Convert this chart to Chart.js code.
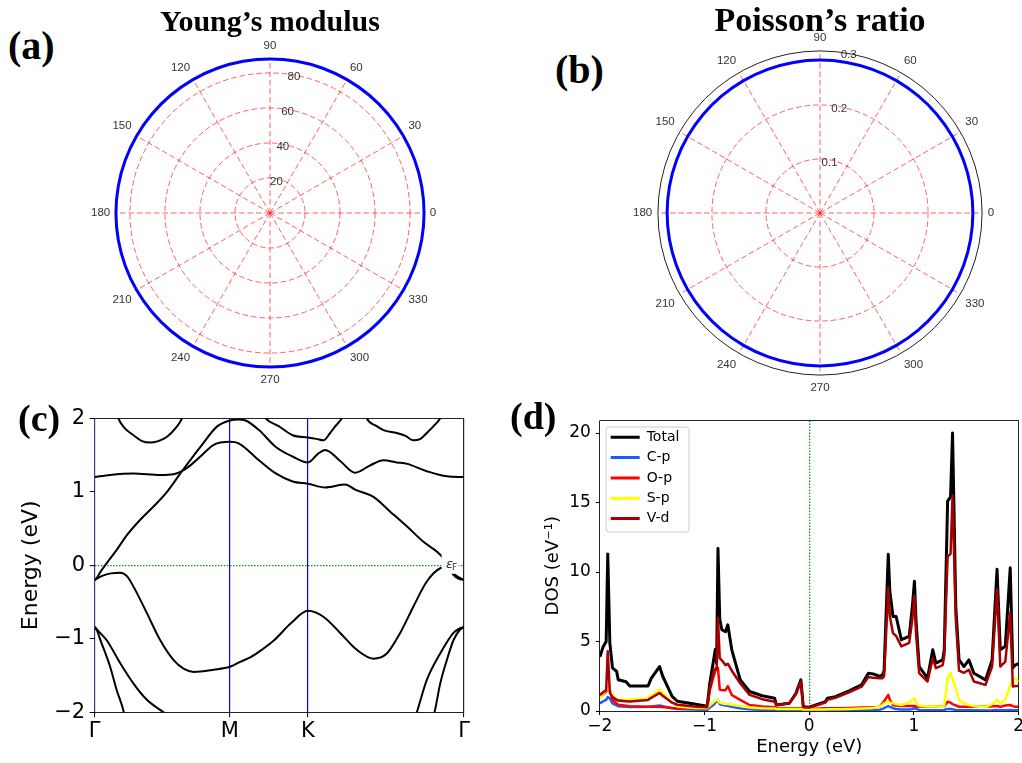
<!DOCTYPE html>
<html>
<head>
<meta charset="utf-8">
<title>Elastic constants, band structure and DOS</title>
<script src="https://cdn.jsdelivr.net/npm/chart.js@4.4.1/dist/chart.umd.min.js"></script>
<style>
  html, body { margin: 0; padding: 0; background: #fff; width: 1022px; height: 763px; overflow: hidden; }
  canvas { position: absolute; }
  .lbl { position: absolute; font-family: 'Liberation Serif', serif; font-weight: bold; white-space: nowrap; line-height: 1; color: #000; }
</style>
</head>
<body>
<canvas id="young" width="358" height="358" style="left:85px;top:35px"></canvas>
<canvas id="poisson" width="374" height="374" style="left:627px;top:27px"></canvas>
<canvas id="bands" width="480" height="363" style="left:0;top:400px"></canvas>
<canvas id="dos" width="505" height="363" style="left:520px;top:400px"></canvas>
<div class="lbl" style="left:270px;top:6px;font-size:30px;transform:translateX(-50%)">Young’s modulus</div>
<div class="lbl" style="left:820px;top:3px;font-size:34px;transform:translateX(-50%)">Poisson’s ratio</div>
<div class="lbl" style="left:8px;top:26px;font-size:40px">(a)</div>
<div class="lbl" style="left:555px;top:50px;font-size:40px">(b)</div>
<div class="lbl" style="left:18px;top:399px;font-size:38px">(c)</div>
<div class="lbl" style="left:510px;top:397px;font-size:38px">(d)</div>
<script>
Chart.defaults.font.family = 'DejaVu Sans';
Chart.defaults.color = '#000';

// (a), (b) polar plots, angles in degrees (clockwise from the top, as the radar scale draws them)
const angles = [90, 80, 70, 60, 50, 40, 30, 20, 10, 0, 350, 340, 330, 320, 310, 300, 290, 280,
  270, 260, 250, 240, 230, 220, 210, 200, 190, 180, 170, 160, 150, 140, 130, 120, 110, 100];
const youngValues = [88, 88, 88, 88, 88, 88, 88, 88, 88, 88, 88, 88, 88, 88, 88, 88, 88, 88,
  88, 88, 88, 88, 88, 88, 88, 88, 88, 88, 88, 88, 88, 88, 88, 88, 88, 88];
const youngTicks = [0, 20, 40, 60, 80, 88];
const poissonValues = [0.283, 0.283, 0.283, 0.283, 0.283, 0.283, 0.283, 0.283, 0.283, 0.283, 0.283, 0.283,
  0.283, 0.283, 0.283, 0.283, 0.283, 0.283, 0.283, 0.283, 0.283, 0.283, 0.283, 0.283,
  0.283, 0.283, 0.283, 0.283, 0.283, 0.283, 0.283, 0.283, 0.283, 0.283, 0.283, 0.283];
const poissonTicks = [0, 0.1, 0.2, 0.3];

// (c) band structure, [k, E] pairs along Γ-M-K-Γ
const kTicks = [0, 1, 1.577, 2.732];
const kLabels = ['Γ', 'M', 'K', 'Γ'];
const eTicks = [-2, -1, 0, 1, 2];
const bandA1 = [[0.160, 2.10], [0.175, 2.0], [0.22, 1.87], [0.287, 1.77], [0.35, 1.69], [0.411, 1.67],
  [0.47, 1.69], [0.535, 1.75], [0.60, 1.87], [0.646, 2.0], [0.66, 2.08]];
const bandA2 = [[2.00, 2.08], [2.013, 2.0], [2.08, 1.90], [2.136, 1.84], [2.235, 1.80], [2.30, 1.76],
  [2.358, 1.70], [2.41, 1.72], [2.457, 1.80], [2.51, 1.90], [2.556, 2.0], [2.57, 2.06]];
const bandB = [[0, 1.20], [0.114, 1.23], [0.287, 1.25], [0.485, 1.23], [0.584, 1.24], [0.634, 1.27],
  [0.708, 1.36], [0.782, 1.48], [0.881, 1.64], [1.0, 1.68], [1.065, 1.66], [1.215, 1.43], [1.340, 1.25],
  [1.464, 1.14], [1.577, 1.11], [1.705, 1.06], [1.853, 1.10], [1.927, 1.03], [2.062, 0.93], [2.186, 0.73],
  [2.309, 0.53], [2.432, 0.32], [2.568, 0.12], [2.608, 0.0], [2.654, -0.13], [2.69, -0.18], [2.732, -0.20]];
const bandC = [[0, -0.20], [0.02, -0.16], [0.039, -0.10], [0.089, 0.03], [0.163, 0.21], [0.238, 0.41],
  [0.337, 0.62], [0.435, 0.80], [0.535, 1.0], [0.634, 1.25], [0.782, 1.61], [0.906, 1.89], [1.0, 1.97],
  [1.065, 1.985], [1.117, 1.97], [1.215, 1.84], [1.340, 1.61], [1.464, 1.48], [1.577, 1.40], [1.653, 1.52],
  [1.705, 1.57], [1.816, 1.42], [1.927, 1.26], [2.038, 1.36], [2.136, 1.43], [2.235, 1.40], [2.312, 1.38],
  [2.457, 1.28], [2.605, 1.21], [2.732, 1.20]];
const bandD = [[1.25, 2.05], [1.265, 2.0], [1.364, 1.89], [1.464, 1.77], [1.577, 1.74], [1.64, 1.72],
  [1.692, 1.70], [1.742, 1.80], [1.779, 1.89], [1.828, 2.0], [1.84, 2.05]];
const bandE = [[0, -0.20], [0.06, -0.14], [0.12, -0.11], [0.188, -0.10], [0.24, -0.15], [0.287, -0.29],
  [0.386, -0.65], [0.485, -1.02], [0.584, -1.29], [0.66, -1.41], [0.733, -1.45], [0.881, -1.42],
  [1.0, -1.38], [1.08, -1.31], [1.154, -1.25], [1.228, -1.16], [1.327, -1.02], [1.451, -0.79],
  [1.577, -0.62], [1.692, -0.70], [1.816, -0.92], [1.939, -1.15], [2.062, -1.27], [2.161, -1.20],
  [2.260, -0.92], [2.358, -0.56], [2.457, -0.22], [2.556, -0.04], [2.59, -0.03], [2.629, -0.06],
  [2.654, -0.11], [2.69, -0.16], [2.732, -0.20]];
const bandL1 = [[0, -0.84], [0.02, -0.90], [0.039, -1.0], [0.114, -1.38], [0.163, -1.70], [0.218, -2.02], [0.225, -2.1]];
const bandL2 = [[0, -0.84], [0.04, -0.92], [0.089, -1.02], [0.188, -1.33], [0.287, -1.61], [0.386, -1.83],
  [0.51, -2.0], [0.55, -2.05]];
const bandR1 = [[2.505, -2.06], [2.514, -2.0], [2.556, -1.61], [2.605, -1.29], [2.654, -1.02], [2.70, -0.88], [2.732, -0.84]];
const bandR2 = [[2.37, -2.07], [2.383, -2.0], [2.457, -1.56], [2.556, -1.20], [2.654, -0.92], [2.70, -0.86], [2.732, -0.84]];
const fermiK = 2.57;

// (d) projected density of states
const energy = [-2.00, -1.97, -1.94, -1.925, -1.905, -1.88, -1.84, -1.825, -1.75, -1.715,
  -1.54, -1.51, -1.43, -1.40, -1.31, -1.26, -1.10, -0.975, -0.95, -0.913,
  -0.897, -0.885, -0.872, -0.855, -0.835, -0.80, -0.778, -0.74, -0.66, -0.57,
  -0.45, -0.33, -0.315, -0.19, -0.127, -0.08, -0.057, 0.0, 0.155, 0.173,
  0.25, 0.38, 0.50, 0.565, 0.61, 0.67, 0.70, 0.715, 0.755, 0.77,
  0.80, 0.83, 0.88, 0.955, 0.985, 1.005, 1.02, 1.05, 1.13, 1.18,
  1.21, 1.275, 1.29, 1.322, 1.35, 1.369, 1.40, 1.431, 1.478, 1.525,
  1.573, 1.684, 1.747, 1.794, 1.825, 1.873, 1.92, 1.945, 1.967, 2.0];
const totalDos = [3.9, 4.6, 5.0, 11.3, 4.9, 3.1, 2.85, 2.25, 2.1, 1.8,
  1.8, 2.35, 3.2, 2.5, 1.05, 0.7, 0.5, 0.35, 2.0, 3.7,
  4.45, 3.45, 11.7, 6.6, 5.85, 5.7, 6.2, 4.4, 2.25, 1.4,
  1.1, 0.92, 0.43, 0.56, 1.28, 2.24, 0.31, 0.27, 0.67, 0.92,
  1.03, 1.45, 1.88, 2.72, 2.67, 2.5, 2.6, 2.9, 11.27, 8.6,
  6.8, 6.8, 5.13, 5.37, 7.5, 9.34, 6.5, 3.2, 2.36, 4.4,
  3.45, 3.68, 4.4, 15.1, 15.4, 20.0, 7.5, 3.7, 3.2, 3.68,
  2.72, 2.24, 3.68, 10.19, 4.41, 4.65, 10.3, 3.1, 3.3, 3.4];
const cpDos = [0.55, 0.7, 0.8, 1.0, 0.9, 0.55, 0.4, 0.35, 0.3, 0.28,
  0.3, 0.33, 0.4, 0.35, 0.2, 0.15, 0.1, 0.08, 0.25, 0.45,
  0.6, 0.7, 0.8, 0.5, 0.45, 0.4, 0.38, 0.3, 0.2, 0.12,
  0.08, 0.06, 0.05, 0.05, 0.05, 0.05, 0.03, 0.03, 0.04, 0.04,
  0.05, 0.05, 0.06, 0.06, 0.06, 0.08, 0.15, 0.2, 0.36, 0.3,
  0.2, 0.15, 0.1, 0.1, 0.15, 0.2, 0.15, 0.08, 0.05, 0.06,
  0.05, 0.06, 0.08, 0.15, 0.15, 0.12, 0.08, 0.06, 0.05, 0.05,
  0.05, 0.04, 0.05, 0.08, 0.06, 0.06, 0.08, 0.06, 0.06, 0.06];
const opDos = [1.0, 1.2, 1.4, 1.7, 1.5, 0.8, 0.55, 0.45, 0.38, 0.35,
  0.3, 0.3, 0.3, 0.28, 0.22, 0.2, 0.2, 0.2, 1.5, 2.5,
  2.9, 3.0, 3.1, 1.55, 1.5, 1.5, 1.8, 1.15, 0.8, 0.43,
  0.32, 0.27, 0.22, 0.2, 0.2, 0.2, 0.15, 0.15, 0.2, 0.2,
  0.2, 0.22, 0.25, 0.25, 0.25, 0.3, 0.55, 0.7, 1.16, 0.8,
  0.43, 0.4, 0.36, 0.36, 0.36, 0.36, 0.33, 0.3, 0.3, 0.35,
  0.3, 0.3, 0.35, 0.67, 0.6, 0.5, 0.4, 0.3, 0.3, 0.3,
  0.3, 0.3, 0.35, 0.36, 0.3, 0.4, 0.43, 0.35, 0.3, 0.3];
const spDos = [0.9, 1.25, 1.5, 1.7, 1.4, 1.1, 0.85, 0.8, 0.8, 0.82,
  0.92, 1.1, 1.55, 1.3, 0.6, 0.32, 0.22, 0.2, 0.4, 0.65,
  0.75, 0.8, 0.8, 0.6, 0.55, 0.5, 0.5, 0.45, 0.35, 0.25,
  0.2, 0.18, 0.15, 0.15, 0.15, 0.15, 0.1, 0.1, 0.1, 0.12,
  0.12, 0.15, 0.18, 0.2, 0.22, 0.3, 0.45, 0.55, 0.67, 0.6,
  0.56, 0.5, 0.43, 0.6, 0.8, 0.92, 0.6, 0.36, 0.33, 0.35,
  0.32, 0.3, 0.4, 2.4, 2.72, 2.3, 1.6, 0.8, 0.55, 0.43,
  0.35, 0.27, 0.5, 0.8, 0.56, 0.8, 1.9, 2.3, 2.36, 2.1];
const vdDos = [1.15, 1.35, 1.5, 4.3, 1.3, 1.0, 0.8, 0.75, 0.7, 0.68,
  0.8, 0.95, 1.3, 1.1, 0.6, 0.45, 0.33, 0.27, 1.6, 2.85,
  3.05, 3.0, 6.7, 3.8, 3.65, 3.3, 3.4, 2.9, 2.0, 1.16,
  0.85, 0.67, 0.43, 0.56, 1.2, 2.12, 0.27, 0.25, 0.6, 0.8,
  0.95, 1.35, 1.75, 2.45, 2.4, 2.35, 2.36, 2.5, 8.87, 6.8,
  5.6, 5.4, 4.65, 4.9, 6.6, 8.3, 5.6, 2.72, 2.12, 3.8,
  3.08, 3.3, 4.0, 11.1, 11.3, 15.5, 6.6, 2.9, 2.75, 2.96,
  2.12, 1.88, 3.2, 8.74, 3.2, 3.56, 7.06, 1.76, 1.8, 1.8];
const dosNames = ['Total', 'C-p', 'O-p', 'S-p', 'V-d'];
const dosTicks = [-2, -1, 0, 1, 2];
const dosYTicks = [0, 5, 10, 15, 20, 20.9];

const minus = v => (v < 0 ? '−' + Math.abs(v) : String(v));
const gridRed = 'rgba(255, 0, 0, 0.62)';
const clear = 'rgba(0,0,0,0)';
const fermiGreen = '#00a000';
const polarFont = { family: 'Liberation Sans', size: 11.5 };

function polarChart(id, values, ticks, radiusPx, showMax) {
  const rMax = ticks[ticks.length - 1];
  return new Chart(document.getElementById(id), {
    type: 'radar',
    data: {
      labels: angles,
      datasets: [{ data: values, borderColor: '#0000ff', borderWidth: 3, pointRadius: 0, fill: false, tension: 0.333 }]
    },
    options: {
      responsive: false,
      animation: false,
      plugins: { legend: { display: false }, tooltip: { enabled: false } },
      scales: {
        r: {
          min: 0,
          max: rMax,
          afterBuildTicks: s => { s.ticks = ticks.map(v => ({ value: v })); },
          grid: {
            circular: true,
            lineWidth: 1,
            color: c => (c.tick && c.tick.value === rMax ? '#222' : gridRed)
          },
          border: { dash: c => (c.tick && c.tick.value === rMax ? [] : [5.5, 3]) },
          angleLines: {
            // spokes only every 30°
            color: c => (angles[c.index] % 30 === 0 ? gridRed : clear),
            lineWidth: 1,
            borderDash: [5.5, 3]
          },
          pointLabels: {
            font: polarFont,
            color: '#333',
            padding: 0,
            callback: a => (a % 30 === 0 ? String(a) : '')
          },
          ticks: {
            font: { family: 'Liberation Sans', size: 11.5, lineHeight: 0.3 },
            color: '#333',
            showLabelBackdrop: false,
            backdropPadding: 0,
            callback: v => {
              if (v === rMax && !showMax) return '';
              // matplotlib puts the radial labels a little to the right of the 90° line
              const n = Math.round(v / rMax * radiusPx * 0.175 / 1.6);
              return ['', ' '.repeat(n) + v];
            }
          }
        }
      }
    }
  });
}

polarChart('young', youngValues, youngTicks, 154, false);
polarChart('poisson', poissonValues, poissonTicks, 162, true);

// white box with the Fermi level label, as in the original
const fermiLabel = {
  id: 'fermiLabel',
  afterDatasetsDraw(chart) {
    const { ctx, scales: { x, y } } = chart;
    const px = x.getPixelForValue(fermiK);
    const py = y.getPixelForValue(0);
    ctx.save();
    ctx.fillStyle = '#fff';
    ctx.fillRect(px - 0.5, py - 11.5, 17, 20);
    ctx.fillStyle = '#333';
    ctx.textBaseline = 'alphabetic';
    ctx.font = 'italic 13px "DejaVu Sans"';
    ctx.fillText('ε', px + 4, py + 3);
    ctx.font = '9px "DejaVu Sans"';
    ctx.fillText('F', px + 9.8, py + 4.8);
    ctx.restore();
  }
};

const bands = [bandA1, bandA2, bandB, bandC, bandD, bandE, bandL1, bandL2, bandR1, bandR2];

new Chart(document.getElementById('bands'), {
  type: 'scatter',
  data: {
    datasets: bands.map(b => ({
      data: b.map(([x, y]) => ({ x, y })),
      showLine: true,
      borderColor: '#000',
      backgroundColor: '#000',
      borderWidth: 2,
      pointRadius: 0,
      cubicInterpolationMode: 'monotone',
      clip: 0
    }))
  },
  options: {
    responsive: false,
    animation: false,
    layout: { padding: { top: 18.3, right: 16, bottom: 0, left: 0 } },
    plugins: { legend: { display: false }, tooltip: { enabled: false } },
    scales: {
      x: {
        type: 'linear',
        min: kTicks[0],
        max: kTicks[kTicks.length - 1],
        afterBuildTicks: s => { s.ticks = kTicks.map(v => ({ value: v })); },
        afterFit: s => { s.height = 50.7; },
        ticks: { autoSkip: false, maxRotation: 0, padding: 2, color: '#000', font: { size: 21 }, callback: (v, i) => kLabels[i] },
        grid: {
          lineWidth: 1.2,
          color: c => {
            if (!c.tick) return '#000';
            if (c.tick.value === kTicks[0]) return '#3c3c8c';
            if (c.tick.value === kTicks[kTicks.length - 1]) return '#222';
            return '#0000ff';
          },
          tickLength: 5,
          tickColor: '#000',
          tickWidth: 1
        },
        border: { display: false }
      },
      y: {
        min: eTicks[0],
        max: eTicks[eTicks.length - 1],
        afterBuildTicks: s => { s.ticks = eTicks.map(v => ({ value: v })); },
        afterFit: s => { s.width = 94.7; },
        ticks: { padding: 4.5, color: '#000', font: { size: 21 }, callback: v => minus(v) },
        grid: {
          lineWidth: c => (c.tick && c.tick.value === 0 ? 1.3 : 1),
          color: c => {
            if (!c.tick) return '#000';
            if (c.tick.value === 0) return fermiGreen;
            return Math.abs(c.tick.value) === 2 ? '#222' : clear;
          },
          tickLength: 5,
          tickColor: '#000',
          tickWidth: 1
        },
        border: { display: false, dash: c => (c.tick && c.tick.value === 0 ? [1.5, 1.5] : []) },
        title: { display: true, text: 'Energy (eV)', color: '#000', font: { size: 22 }, padding: { top: 17.8, bottom: 0 } }
      }
    }
  },
  plugins: [fermiLabel]
});

// legend sits inside the plot (upper left) with a light frame
const legendFrame = {
  id: 'legendFrame',
  afterLayout(chart) {
    const ca = chart.chartArea;
    const L = chart.legend;
    L.left = ca.left + 4.5;
    L.top = ca.top + 3.5;
    L.bottom = ca.bottom;
  },
  afterDraw(chart) {
    const L = chart.legend;
    const ctx = chart.ctx;
    ctx.save();
    ctx.strokeStyle = '#cccccc';
    ctx.lineWidth = 1;
    ctx.beginPath();
    ctx.roundRect(L.left + 1.6, L.top + 3, 83, 105, 3);
    ctx.stroke();
    ctx.restore();
  }
};

const dosSeries = [totalDos, cpDos, opDos, spDos, vdDos];
const dosColors = ['#000000', '#1a5cff', '#ff0000', '#ffff00', '#a80000'];
const dosWidths = [3, 2.5, 2.5, 2.5, 2.5];

new Chart(document.getElementById('dos'), {
  type: 'scatter',
  data: {
    datasets: dosSeries.map((vals, i) => ({
      label: dosNames[i],
      data: vals.map((v, j) => ({ x: energy[j], y: v })),
      showLine: true,
      borderColor: dosColors[i],
      backgroundColor: dosColors[i],
      borderWidth: dosWidths[i],
      borderJoinStyle: 'round',
      pointRadius: 0,
      tension: 0,
      order: dosSeries.length - i
    }))
  },
  options: {
    responsive: false,
    animation: false,
    layout: { padding: { top: 20.5, right: 1.5, bottom: 0, left: 0 } },
    plugins: {
      tooltip: { enabled: false },
      legend: {
        position: 'chartArea',
        align: 'start',
        labels: {
          boxWidth: 29,
          boxHeight: 3,
          padding: 6.3,
          color: '#000',
          font: { size: 14 },
          sort: (a, b) => a.datasetIndex - b.datasetIndex,
          generateLabels: chart => Chart.defaults.plugins.legend.labels.generateLabels(chart)
            .map(l => Object.assign(l, { lineWidth: 0 }))
        }
      }
    },
    scales: {
      x: {
        type: 'linear',
        min: dosTicks[0],
        max: dosTicks[dosTicks.length - 1],
        afterBuildTicks: s => { s.ticks = dosTicks.map(v => ({ value: v })); },
        afterFit: s => { s.height = 52; },
        ticks: { autoSkip: false, maxRotation: 0, padding: 1, color: '#000', font: { size: 17 }, callback: v => minus(v) },
        grid: {
          lineWidth: c => (c.tick && c.tick.value === 0 ? 1.3 : 1),
          color: c => {
            if (!c.tick) return '#000';
            if (c.tick.value === 0) return fermiGreen;
            return (c.tick.value === dosTicks[0] || c.tick.value === dosTicks[dosTicks.length - 1]) ? '#222' : clear;
          },
          tickLength: 4,
          tickColor: '#000'
        },
        border: { display: false, dash: c => (c.tick && c.tick.value === 0 ? [1.5, 1.5] : []) },
        title: { display: true, text: 'Energy (eV)', color: '#000', font: { size: 18 }, padding: { top: 0, bottom: 5.2 } }
      },
      y: {
        min: dosYTicks[0],
        max: dosYTicks[dosYTicks.length - 1],
        afterBuildTicks: s => { s.ticks = dosYTicks.map(v => ({ value: v })); },
        afterFit: s => { s.width = 79.9; },
        ticks: {
          padding: 5,
          color: '#000',
          font: { size: 17 },
          callback: v => (v === dosYTicks[dosYTicks.length - 1] ? '' : String(v))
        },
        grid: {
          lineWidth: 1,
          color: c => {
            if (!c.tick) return '#000';
            return (c.tick.value === dosYTicks[0] || c.tick.value === dosYTicks[dosYTicks.length - 1]) ? '#222' : clear;
          },
          tickLength: 4,
          tickColor: c => (c.tick && c.tick.value === dosYTicks[dosYTicks.length - 1] ? clear : '#000')
        },
        border: { display: false },
        title: { display: true, text: 'DOS (eV⁻¹)', color: '#000', font: { size: 18 }, padding: { top: 23, bottom: 0 } }
      }
    }
  },
  plugins: [legendFrame]
});
</script>
</body>
</html>
